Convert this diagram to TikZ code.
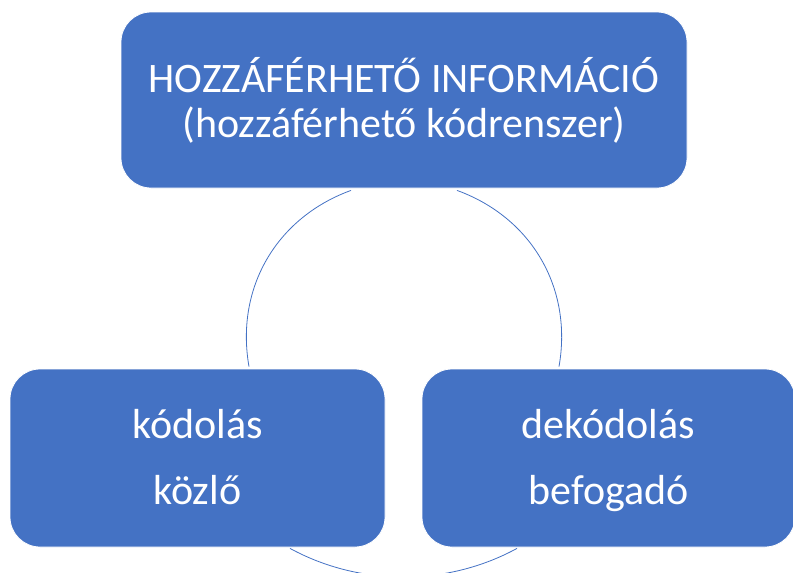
\documentclass[tikz,border=0pt]{standalone}
\usepackage{fontspec}
\setmainfont{Carlito}
\usepackage{tikz}

\definecolor{boxblue}{HTML}{4472C4}

\begin{document}
\begin{tikzpicture}[x=1pt,y=-1pt,
    infobox/.style={fill=boxblue,draw=white,line width=0.8pt,rounded corners=30pt,
      text=white,align=center,inner sep=0pt},
    cyclearc/.style={draw=boxblue,line width=0.8pt}]
      \useasboundingbox (0,0) rectangle (793,573);
      \clip (0,0) rectangle (793,573);
      \node[infobox,minimum width=566pt,minimum height=176pt,font=\fontsize{42}{45}\selectfont] (info) at (404,100) {HOZZÁFÉRHETŐ INFORMÁCIÓ\\(hozzáférhető kódrenszer)};
      \node[infobox,minimum width=375pt,minimum height=178pt,font=\fontsize{42}{66}\selectfont] (enc) at (197.5,458) {\strut kódolás\\\strut közlő};
      \node[infobox,minimum width=373pt,minimum height=178pt,font=\fontsize{42}{66}\selectfont] (dec) at (608.5,458) {\strut dekódolás\\\strut befogadó};
      \draw[cyclearc] ([xshift=-53pt,yshift=-2pt]info.south) to[out=200,in=100] ([xshift=51.5pt,yshift=2pt]enc.north);
      \draw[cyclearc] ([xshift=53pt,yshift=-2pt]info.south) to[out=-20,in=80] ([xshift=-49.5pt,yshift=2pt]dec.north);
      \draw[cyclearc] ([xshift=92.5pt,yshift=-1pt]enc.south) to[out=-28.6,in=208.6,looseness=0.9] ([xshift=-91.5pt,yshift=-1pt]dec.south);
    \end{tikzpicture}
\end{document}
